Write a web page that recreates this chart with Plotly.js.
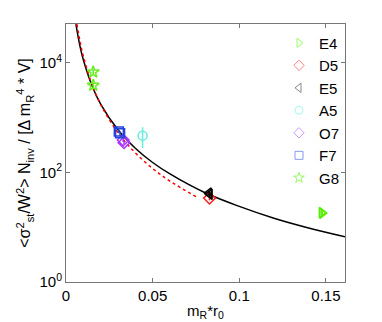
<!DOCTYPE html>
<html>
<head>
<meta charset="utf-8">
<script src="https://cdn.plot.ly/plotly-3.0.1.min.js"></script>
<style>
  html, body { margin: 0; padding: 0; background: #fff; }
  #chart { width: 382px; height: 322px; }
</style>
</head>
<body>
<div id="chart"></div>
<script>
// fit curves
const fitX = [0.0057, 0.008, 0.01, 0.015, 0.02, 0.03, 0.04, 0.05, 0.06, 0.08, 0.1, 0.12, 0.14, 0.161];
const fitY = [51000, 20700, 11400, 3840, 1770, 600, 277, 152, 94, 43, 24, 14.6, 9.7, 6.7];
const fit2X = [0.0063, 0.008, 0.01, 0.015, 0.02, 0.03, 0.04, 0.05, 0.06, 0.0751];
const fit2Y = [51000, 25400, 13200, 4040, 1740, 530, 228, 118, 69.5, 36];

// ensembles
const names = ["E4", "D5", "E5", "A5", "O7", "F7", "G8"];
const symbols = ["triangle-right-open", "diamond-open", "triangle-left-open", "circle-open", "diamond-open", "square-open", "star-open"];
const colors = ["#55ee00", "#ff2020", "#000000", "#66eedd", "#aa33ff", "#2244dd", "#66ee22"];
const legendColors = ["#99ff66", "#ff8080", "#888888", "#aaf5ee", "#d599ff", "#8899ee", "#99f566"];
const ptsX = [[0.1475, 0.1478], [0.0828], [0.0825, 0.083], [0.0442], [0.033, 0.0335], [0.0305, 0.0312], [0.0157, 0.0157]];
const ptsY = [[18.5, 18], [34], [42, 40], [470], [390, 350], [560, 520], [6800, 3900]];
const errUp = [[2, 2], [3], [3, 3], [200], [30, 30], [40, 40], [800, 500]];
const errDn = [[2, 2], [3], [3, 3], [190], [30, 30], [40, 40], [700, 450]];

const data = [];
data.push({
  x: fitX, y: fitY, mode: "lines", type: "scatter", showlegend: false,
  line: {color: "#000", width: 1.5, shape: "spline"}, hoverinfo: "skip"
});
data.push({
  x: fit2X, y: fit2Y, mode: "lines", type: "scatter", showlegend: false,
  line: {color: "#ff0000", width: 1.5, dash: "dot", shape: "spline"}, hoverinfo: "skip"
});
names.forEach(function (n, i) {
  data.push({
    x: ptsX[i], y: ptsY[i], mode: "markers", type: "scatter", name: n, showlegend: false,
    marker: {symbol: symbols[i], color: colors[i], size: 9, line: {width: 1.5, color: colors[i]}},
    error_y: {type: "data", array: errUp[i], arrayminus: errDn[i], color: colors[i], thickness: 1.5, width: 0}
  });
});
// legend entries (lighter, like the original)
names.forEach(function (n, i) {
  data.push({
    x: [null], y: [null], mode: "markers", type: "scatter", name: n,
    marker: {symbol: symbols[i], color: legendColors[i], size: 8, line: {width: 1, color: legendColors[i]}}
  });
});

const layout = {
  width: 382, height: 322,
  margin: {l: 66, r: 37, t: 24, b: 40},
  paper_bgcolor: "#fff", plot_bgcolor: "#fff",
  font: {family: "Liberation Sans, Arial, sans-serif", size: 14, color: "#000"},
  showlegend: true,
  legend: {x: 1.0, y: 0.99, xanchor: "right", yanchor: "top", bgcolor: "rgba(0,0,0,0)",
           font: {size: 15}, itemwidth: 30, tracegroupgap: 0},
  xaxis: {
    range: [0, 0.161], tickvals: [0, 0.05, 0.1, 0.15], ticktext: ["0", "0.05", "0.1", "0.15"],
    ticks: "inside", ticklen: 4, tickcolor: "#777", mirror: "ticks", showline: true, linecolor: "#777",
    linewidth: 1, showgrid: false, zeroline: false, tickfont: {size: 15},
    title: {text: "m<sub>R</sub>*r<sub>0</sub>", font: {size: 15}, standoff: 2}
  },
  yaxis: {
    type: "log", range: [0, 4.71], tickvals: [1, 100, 10000],
    ticktext: ["10<sup>0</sup>", "10<sup>2</sup>", "10<sup>4</sup>"],
    ticks: "inside", ticklen: 4, tickcolor: "#777", mirror: "ticks", showline: true, linecolor: "#777",
    linewidth: 1, showgrid: false, zeroline: false, tickfont: {size: 15},
    title: {text: "&lt;σ<sup>2</sup><sub>st</sub>/W<sup>2</sup>&gt; N<sub>inv</sub> / [Δ m<sub>R</sub><sup>4</sup> * V]",
            font: {size: 16}, standoff: 4}
  }
};

Plotly.newPlot("chart", data, layout, {displayModeBar: false, staticPlot: true});
</script>
</body>
</html>
